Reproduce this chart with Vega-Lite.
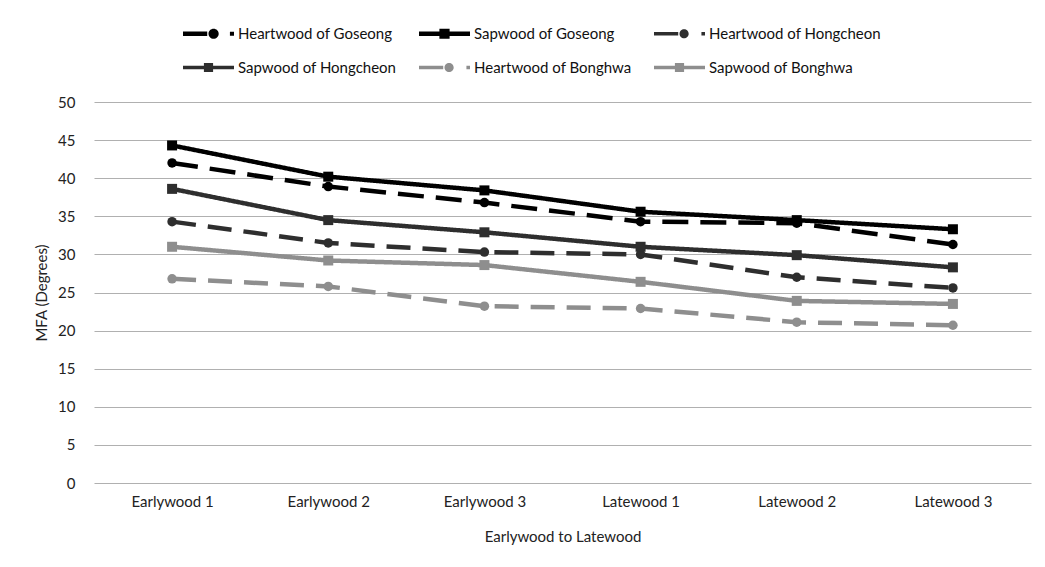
{
  "$schema": "https://vega.github.io/schema/vega-lite/v6.json",
  "width": 937,
  "height": 381,
  "autosize": {"type": "none"},
  "padding": {"left": 94, "top": 102, "right": 14, "bottom": 84},
  "background": "white",
  "config": {
    "font": "Lato",
    "view": {"stroke": null},
    "axis": {"labelFont": "Lato", "titleFont": "Lato", "labelColor": "#222222", "titleColor": "#222222", "titleFontWeight": "normal"},
    "legend": {"labelFont": "Lato"}
  },
  "data": {
    "values": [
      {"position": "Earlywood 1", "series": "Heartwood of Goseong", "mfa": 42.0},
      {"position": "Earlywood 2", "series": "Heartwood of Goseong", "mfa": 38.9},
      {"position": "Earlywood 3", "series": "Heartwood of Goseong", "mfa": 36.8},
      {"position": "Latewood 1", "series": "Heartwood of Goseong", "mfa": 34.3},
      {"position": "Latewood 2", "series": "Heartwood of Goseong", "mfa": 34.1},
      {"position": "Latewood 3", "series": "Heartwood of Goseong", "mfa": 31.3},
      {"position": "Earlywood 1", "series": "Sapwood of Goseong", "mfa": 44.3},
      {"position": "Earlywood 2", "series": "Sapwood of Goseong", "mfa": 40.2},
      {"position": "Earlywood 3", "series": "Sapwood of Goseong", "mfa": 38.4},
      {"position": "Latewood 1", "series": "Sapwood of Goseong", "mfa": 35.6},
      {"position": "Latewood 2", "series": "Sapwood of Goseong", "mfa": 34.5},
      {"position": "Latewood 3", "series": "Sapwood of Goseong", "mfa": 33.3},
      {"position": "Earlywood 1", "series": "Heartwood of Hongcheon", "mfa": 34.3},
      {"position": "Earlywood 2", "series": "Heartwood of Hongcheon", "mfa": 31.5},
      {"position": "Earlywood 3", "series": "Heartwood of Hongcheon", "mfa": 30.3},
      {"position": "Latewood 1", "series": "Heartwood of Hongcheon", "mfa": 30.0},
      {"position": "Latewood 2", "series": "Heartwood of Hongcheon", "mfa": 27.0},
      {"position": "Latewood 3", "series": "Heartwood of Hongcheon", "mfa": 25.6},
      {"position": "Earlywood 1", "series": "Sapwood of Hongcheon", "mfa": 38.6},
      {"position": "Earlywood 2", "series": "Sapwood of Hongcheon", "mfa": 34.5},
      {"position": "Earlywood 3", "series": "Sapwood of Hongcheon", "mfa": 32.9},
      {"position": "Latewood 1", "series": "Sapwood of Hongcheon", "mfa": 31.0},
      {"position": "Latewood 2", "series": "Sapwood of Hongcheon", "mfa": 29.9},
      {"position": "Latewood 3", "series": "Sapwood of Hongcheon", "mfa": 28.3},
      {"position": "Earlywood 1", "series": "Heartwood of Bonghwa", "mfa": 26.8},
      {"position": "Earlywood 2", "series": "Heartwood of Bonghwa", "mfa": 25.8},
      {"position": "Earlywood 3", "series": "Heartwood of Bonghwa", "mfa": 23.2},
      {"position": "Latewood 1", "series": "Heartwood of Bonghwa", "mfa": 22.9},
      {"position": "Latewood 2", "series": "Heartwood of Bonghwa", "mfa": 21.1},
      {"position": "Latewood 3", "series": "Heartwood of Bonghwa", "mfa": 20.7},
      {"position": "Earlywood 1", "series": "Sapwood of Bonghwa", "mfa": 31.0},
      {"position": "Earlywood 2", "series": "Sapwood of Bonghwa", "mfa": 29.2},
      {"position": "Earlywood 3", "series": "Sapwood of Bonghwa", "mfa": 28.6},
      {"position": "Latewood 1", "series": "Sapwood of Bonghwa", "mfa": 26.4},
      {"position": "Latewood 2", "series": "Sapwood of Bonghwa", "mfa": 23.9},
      {"position": "Latewood 3", "series": "Sapwood of Bonghwa", "mfa": 23.5}
    ]
  },
  "resolve": {"legend": {"color": "independent", "shape": "independent"}},
  "encoding": {
    "x": {
      "field": "position",
      "type": "ordinal",
      "sort": null,
      "scale": {"type": "point", "padding": 0.5},
      "title": "Earlywood to Latewood",
      "axis": {"labelAngle": 0, "domain": false, "ticks": false, "labelPadding": 11, "labelFontSize": 15, "titleFontSize": 15, "titlePadding": 20}
    },
    "y": {
      "field": "mfa",
      "type": "quantitative",
      "scale": {"domain": [0, 50]},
      "title": "MFA (Degrees)",
      "axis": {"values": [0, 5, 10, 15, 20, 25, 30, 35, 40, 45, 50], "domain": false, "ticks": false, "labelPadding": 19, "labelFontSize": 15, "titleFontSize": 15, "titlePadding": 8, "gridColor": "#b0b0b0", "gridWidth": 1.2}
    }
  },
  "layer": [
    {
      "mark": {"type": "line"},
      "encoding": {
        "color": {
          "field": "series",
          "type": "nominal",
          "scale": {
            "domain": ["Heartwood of Goseong", "Sapwood of Goseong", "Heartwood of Hongcheon", "Sapwood of Hongcheon", "Heartwood of Bonghwa", "Sapwood of Bonghwa"],
            "range": ["#000000", "#000000", "#2e2e2e", "#2e2e2e", "#8e8e8e", "#8e8e8e"]
          },
          "legend": null
        },
        "strokeDash": {
          "field": "series",
          "type": "nominal",
          "scale": {
            "domain": ["Heartwood of Goseong", "Sapwood of Goseong", "Heartwood of Hongcheon", "Sapwood of Hongcheon", "Heartwood of Bonghwa", "Sapwood of Bonghwa"],
            "range": [[26, 12], [1, 0], [24, 12], [1, 0], [24, 12], [1, 0]]
          },
          "legend": null
        },
        "strokeWidth": {
          "field": "series",
          "type": "nominal",
          "scale": {
            "domain": ["Heartwood of Goseong", "Sapwood of Goseong", "Heartwood of Hongcheon", "Sapwood of Hongcheon", "Heartwood of Bonghwa", "Sapwood of Bonghwa"],
            "range": [4.5, 4.5, 3.5, 3.5, 3.5, 3.5]
          },
          "legend": null
        }
      }
    },
    {
      "transform": [{"filter": "indexof(datum.series, 'Heartwood') === 0"}],
      "mark": {"type": "point", "shape": "circle", "filled": true, "size": 90, "opacity": 1},
      "encoding": {"color": {"field": "series", "type": "nominal", "legend": null}}
    },
    {
      "transform": [{"filter": "indexof(datum.series, 'Sapwood') === 0"}],
      "mark": {"type": "point", "shape": "square", "filled": true, "size": 100, "opacity": 1},
      "encoding": {"color": {"field": "series", "type": "nominal", "legend": null}}
    },
    {
      "transform": [{"filter": "false"}],
      "mark": {"type": "point", "filled": true, "opacity": 1},
      "encoding": {
        "color": {
          "field": "series",
          "type": "nominal",
          "legend": {
            "title": null,
            "orient": "none",
            "legendX": 89,
            "legendY": -94,
            "direction": "horizontal",
            "columns": 3,
            "columnPadding": 22,
            "rowPadding": 0,
            "symbolSize": 2601,
            "symbolStrokeWidth": 0,
            "symbolOpacity": 1,
            "labelFontSize": 15,
            "labelOffset": 4,
            "labelColor": "#111111",
            "labelLimit": 300
          }
        },
        "shape": {
          "field": "series",
          "type": "nominal",
          "scale": {
            "domain": ["Heartwood of Goseong", "Sapwood of Goseong", "Heartwood of Hongcheon", "Sapwood of Hongcheon", "Heartwood of Bonghwa", "Sapwood of Bonghwa"],
            "range": [
              "M-1,-0.09L-0.05,-0.09L-0.05,0.09L-1,0.09Z M0,0 A0.2,0.2 0 1,0 0.4,0 A0.2,0.2 0 1,0 0,0Z M0.84,-0.08L1,-0.08L1,0.08L0.84,0.08Z",
              "M-1,-0.09L1,-0.09L1,0.09L-1,0.09Z M-0.2,-0.2L0.2,-0.2L0.2,0.2L-0.2,0.2Z",
              "M-1,-0.07L-0.05,-0.07L-0.05,0.07L-1,0.07Z M0,0 A0.18,0.18 0 1,0 0.36,0 A0.18,0.18 0 1,0 0,0Z M0.86,-0.07L1,-0.07L1,0.07L0.86,0.07Z",
              "M-1,-0.07L1,-0.07L1,0.07L-1,0.07Z M-0.18,-0.18L0.18,-0.18L0.18,0.18L-0.18,0.18Z",
              "M-1,-0.07L-0.05,-0.07L-0.05,0.07L-1,0.07Z M0,0 A0.18,0.18 0 1,0 0.36,0 A0.18,0.18 0 1,0 0,0Z M0.86,-0.07L1,-0.07L1,0.07L0.86,0.07Z",
              "M-1,-0.07L1,-0.07L1,0.07L-1,0.07Z M-0.18,-0.18L0.18,-0.18L0.18,0.18L-0.18,0.18Z"
            ]
          }
        }
      }
    }
  ]
}
